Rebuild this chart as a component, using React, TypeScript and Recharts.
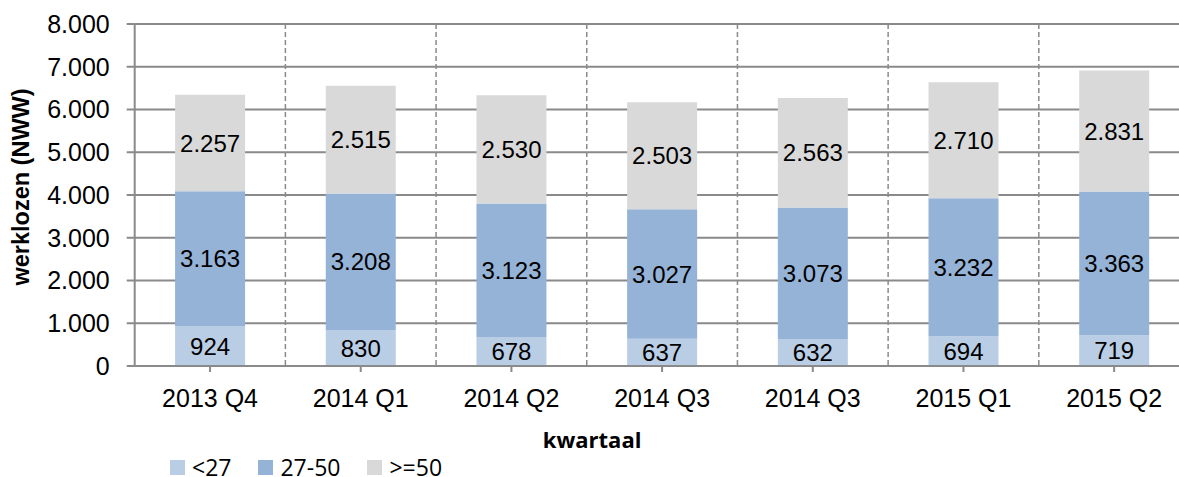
import { Bar, BarChart, CartesianGrid, LabelList, XAxis, YAxis } from "recharts";

const quarters = ["2013 Q4", "2014 Q1", "2014 Q2", "2014 Q3", "2014 Q3", "2015 Q1", "2015 Q2"];
const under27 = [924, 830, 678, 637, 632, 694, 719];
const age27to50 = [3163, 3208, 3123, 3027, 3073, 3232, 3363];
const over50 = [2257, 2515, 2530, 2503, 2563, 2710, 2831];
const yTicks = [0, 1000, 2000, 3000, 4000, 5000, 6000, 7000, 8000];

const series = [
  { key: "a", name: "<27", color: "#B9CDE5", values: under27 },
  { key: "b", name: "27-50", color: "#95B3D7", values: age27to50 },
  { key: "c", name: ">=50", color: "#D9D9D9", values: over50 },
];

const rows = quarters.map((q, i) => ({
  idx: i,
  q,
  a: under27[i],
  b: age27to50[i],
  c: over50[i],
}));

// dutch thousands separator: 8000 -> "8.000"
const fmt = (v: number) => String(v).replace(/\B(?=(\d{3})+(?!\d))/g, ".");

const AXIS = "#8A8A8A";
const SANS = "'Liberation Sans', Arial, sans-serif";

function YTitle({ viewBox }: any) {
  const cy = viewBox.y + viewBox.height / 2 - 8;
  return (
    <text
      x={21}
      y={cy}
      transform={`rotate(-90 21 ${cy})`}
      textAnchor="middle"
      dominantBaseline="central"
      fontFamily={SANS}
      fontWeight="bold"
      fontSize={23.5}
      fill="#000"
    >
      werklozen (NWW)
    </text>
  );
}

function XTitle({ viewBox }: any) {
  return (
    <text
      x={viewBox.x + viewBox.width / 2 - 70}
      y={448}
      textAnchor="middle"
      fontFamily="'Open Sans', sans-serif"
      fontWeight="bold"
      fontSize={22}
      fill="#000"
    >
      kwartaal
    </text>
  );
}

export default function App() {
  return (
    <div
      style={{
        position: "absolute",
        left: 0,
        top: 0,
        width: 1179,
        height: 477,
        overflow: "hidden",
        background: "#fff",
      }}
    >
      <BarChart
        width={1200}
        height={477}
        data={rows}
        margin={{ top: 24, right: 10.5, bottom: 0, left: 0 }}
        barCategoryGap="26.8%"
      >
        <CartesianGrid
          stroke={AXIS}
          strokeWidth={2}
          vertical={false}
          horizontalValues={yTicks}
        />
        <CartesianGrid
          stroke={AXIS}
          strokeWidth={1.5}
          strokeDasharray="5 3"
          horizontal={false}
          verticalCoordinatesGenerator={({ offset }: any) =>
            quarters.slice(1).map((_, i) => offset.left + ((i + 1) * offset.width) / quarters.length)
          }
        />
        <XAxis
          dataKey="idx"
          type="category"
          height={111}
          tickFormatter={(i: number) => quarters[i]}
          tick={{ fontSize: 25, fill: "#000", fontFamily: SANS }}
          tickSize={6}
          tickMargin={17}
          tickLine={{ stroke: AXIS, strokeWidth: 2 }}
          axisLine={{ stroke: AXIS, strokeWidth: 2 }}
          interval={0}
          label={<XTitle />}
        />
        <YAxis
          width={134.7}
          domain={[0, 8000]}
          ticks={yTicks}
          tickFormatter={fmt}
          tick={{ fontSize: 25, fill: "#000", fontFamily: SANS }}
          tickSize={8}
          tickMargin={17}
          tickLine={{ stroke: AXIS, strokeWidth: 2 }}
          axisLine={{ stroke: AXIS, strokeWidth: 2 }}
          interval={0}
          label={<YTitle />}
        />
        {series.map((s) => (
          <Bar key={s.key} dataKey={s.key} name={s.name} stackId="x" fill={s.color} isAnimationActive={false}>
            <LabelList
              dataKey={s.key}
              position="center"
              formatter={(v: any) => fmt(Number(v))}
              style={{ fontSize: 24, fill: "#000", fontFamily: SANS }}
            />
          </Bar>
        ))}
      </BarChart>
      <div
        style={{
          position: "absolute",
          left: 170,
          top: 456,
          display: "flex",
          alignItems: "flex-start",
          fontFamily: "'Open Sans', sans-serif",
          fontSize: 23,
          color: "#000",
          lineHeight: "23px",
        }}
      >
        {series.map((s) => (
          <div key={s.key} style={{ display: "flex", alignItems: "flex-start", marginRight: 27 }}>
            <span style={{ width: 15, height: 15, background: s.color, marginRight: 7, marginTop: 4 }} />
            <span>{s.name}</span>
          </div>
        ))}
      </div>
    </div>
  );
}
